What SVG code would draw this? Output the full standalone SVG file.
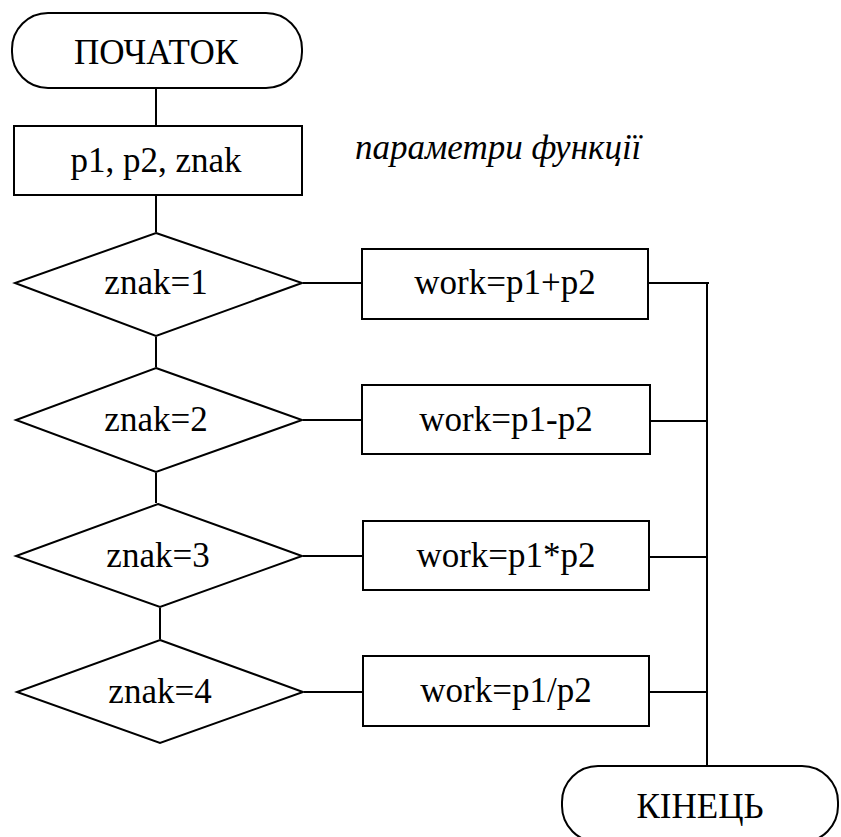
<svg xmlns="http://www.w3.org/2000/svg" width="841" height="837" viewBox="0 0 841 837">
<rect width="841" height="837" fill="#fff"/>
<g id="params">
<rect x="14" y="126" width="288" height="69" fill="#fff" stroke="#000" stroke-width="2"/>
<text x="156" y="172" font-size="35" font-family="Liberation Serif" text-anchor="middle" style="font-family:'Liberation Serif'">p1, p2, znak</text>
</g>
<g id="start">
<rect x="12" y="13" width="290" height="75" rx="36" ry="36" fill="#fff" stroke="#000" stroke-width="2"/>
<text x="156" y="64" font-size="35" font-family="Liberation Serif" text-anchor="middle" style="font-family:'Liberation Serif'">ПОЧАТОК</text>
</g>
<g id="comment">
<text x="355" y="159" font-size="35" font-family="Liberation Serif" font-style="italic" style="font-family:'Liberation Serif'">параметри функції</text>
</g>
<g id="d1">
<polygon points="156,233 302,283 156,336 15,283" fill="#fff" stroke="#000" stroke-width="2"/>
<text x="156" y="294" font-size="35" font-family="Liberation Serif" text-anchor="middle" style="font-family:'Liberation Serif'">znak=1</text>
</g>
<g id="d2">
<polygon points="156,368 302,420 156,472 16,420" fill="#fff" stroke="#000" stroke-width="2"/>
<text x="156" y="431" font-size="35" font-family="Liberation Serif" text-anchor="middle" style="font-family:'Liberation Serif'">znak=2</text>
</g>
<g id="d3">
<polygon points="158,504 302,556 160,607 16,556" fill="#fff" stroke="#000" stroke-width="2"/>
<text x="158" y="567" font-size="35" font-family="Liberation Serif" text-anchor="middle" style="font-family:'Liberation Serif'">znak=3</text>
</g>
<g id="d4">
<polygon points="160,640 303,692 160,743 17,692" fill="#fff" stroke="#000" stroke-width="2"/>
<text x="160" y="703" font-size="35" font-family="Liberation Serif" text-anchor="middle" style="font-family:'Liberation Serif'">znak=4</text>
</g>
<g id="b1">
<rect x="362" y="249" width="286" height="70" fill="#fff" stroke="#000" stroke-width="2"/>
<text x="505" y="294" font-size="35" font-family="Liberation Serif" text-anchor="middle" style="font-family:'Liberation Serif'">work=p1+p2</text>
</g>
<g id="b2">
<rect x="362" y="385" width="288" height="69" fill="#fff" stroke="#000" stroke-width="2"/>
<text x="506" y="431" font-size="35" font-family="Liberation Serif" text-anchor="middle" style="font-family:'Liberation Serif'">work=p1-p2</text>
</g>
<g id="b3">
<rect x="363" y="521" width="286" height="69" fill="#fff" stroke="#000" stroke-width="2"/>
<text x="506" y="567" font-size="35" font-family="Liberation Serif" text-anchor="middle" style="font-family:'Liberation Serif'">work=p1*p2</text>
</g>
<g id="b4">
<rect x="363" y="656" width="286" height="70" fill="#fff" stroke="#000" stroke-width="2"/>
<text x="506" y="702" font-size="35" font-family="Liberation Serif" text-anchor="middle" style="font-family:'Liberation Serif'">work=p1/p2</text>
</g>
<g id="end">
<rect x="562" y="766" width="276" height="76" rx="36" ry="36" fill="#fff" stroke="#000" stroke-width="2"/>
<text x="700" y="818" font-size="35" font-family="Liberation Serif" text-anchor="middle" style="font-family:'Liberation Serif'">КІНЕЦЬ</text>
</g>
<g id="connectors" fill="none" stroke="#000" stroke-width="2">
<line x1="156" y1="89" x2="156" y2="125"/>
<line x1="156" y1="196" x2="156" y2="232"/>
<line x1="156" y1="337" x2="156" y2="367"/>
<line x1="156" y1="473" x2="156" y2="503"/>
<line x1="160" y1="608" x2="160" y2="639"/>
<line x1="303" y1="283" x2="361" y2="283"/>
<line x1="303" y1="420" x2="361" y2="420"/>
<line x1="303" y1="556" x2="362" y2="556"/>
<line x1="304" y1="692" x2="362" y2="692"/>
<line x1="649" y1="283" x2="709" y2="283"/>
<line x1="651" y1="421" x2="707" y2="421"/>
<line x1="650" y1="557" x2="707" y2="557"/>
<line x1="650" y1="692" x2="707" y2="692"/>
<line x1="707" y1="283" x2="707" y2="765"/>
</g>
</svg>
